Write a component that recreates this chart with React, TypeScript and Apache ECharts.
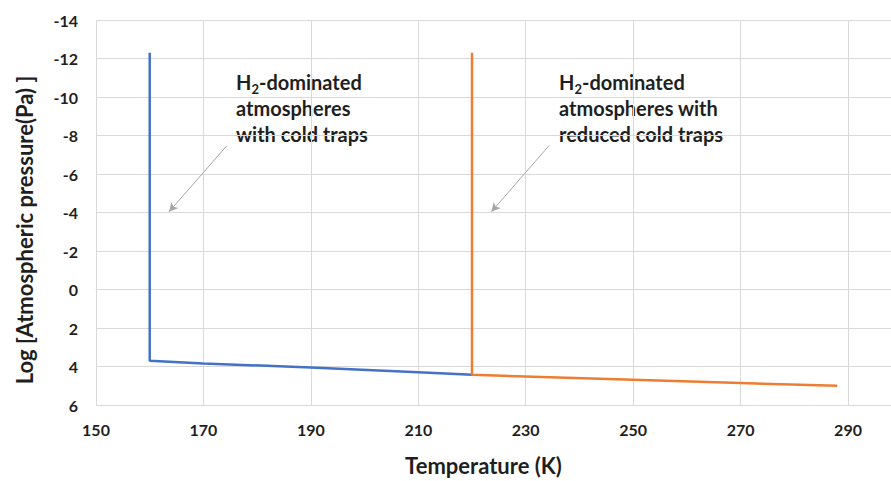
import React, { useEffect, useRef } from "react";
import * as echarts from "echarts";

const xTicks = [150, 170, 190, 210, 230, 250, 270, 290];
const coldTrapSeries: [number, number][] = [
  [160, -12.3],
  [160, 3.7],
  [170, 3.84],
  [190, 4.05],
  [210, 4.3],
  [220, 4.43],
];
const reducedTrapSeries: [number, number][] = [
  [220, -12.3],
  [220, 4.43],
  [250, 4.69],
  [270, 4.86],
  [288, 5.0],
];
const arrowCold: [number, number][] = [
  [174.3, -7.45],
  [163.6, -4.04],
];
const arrowReduced: [number, number][] = [
  [234.4, -7.49],
  [223.6, -4.04],
];

const FONT = "Lato, 'Open Sans', sans-serif";
const TXT = "#1f1f1f";

export default function App() {
  const ref = useRef<HTMLDivElement>(null);
  useEffect(() => {
    if (!ref.current) return;
    const chart = echarts.init(ref.current, undefined, { renderer: "svg" });
    const rich = {
      a: { fontSize: 20, fontWeight: "bold", fontFamily: FONT, fill: TXT, lineHeight: 26 },
      s: { fontSize: 13, fontWeight: "bold", fontFamily: FONT, fill: TXT, lineHeight: 26, verticalAlign: "bottom" },
    };
    const arrowMark = (pts: [number, number][]) => ({
      silent: true,
      symbol: ["none", "arrow"],
      symbolSize: [7, 9],
      label: { show: false },
      lineStyle: { color: "#a6a6a6", width: 1, type: "solid" },
      emphasis: { disabled: true },
      data: [[{ coord: pts[0] }, { coord: pts[1] }]],
    });
    chart.setOption({
      animation: false,
      grid: { left: 96, top: 20, right: 0, bottom: 74, containLabel: false },
      xAxis: {
        type: "value",
        min: 150,
        max: 298,
        interval: 20,
        name: "Temperature (K)",
        nameLocation: "middle",
        nameGap: 49,
        nameTextStyle: { fontSize: 22, fontWeight: "bold", fontFamily: FONT, color: TXT, padding: [0, 20, 0, 0] },
        axisLine: { show: true, lineStyle: { color: "#d9d9d9", width: 1 } },
        axisTick: { show: false },
        splitLine: { show: true, lineStyle: { color: "#d9d9d9", width: 1 } },
        axisLabel: {
          fontSize: 16,
          fontWeight: "bold",
          fontFamily: FONT,
          color: TXT,
          margin: 16,
          showMaxLabel: false,
          formatter: (v: number) => (xTicks.includes(v) ? String(v) : ""),
        },
      },
      yAxis: {
        type: "value",
        inverse: true,
        min: -14,
        max: 6,
        interval: 2,
        axisLine: { show: false },
        axisTick: { show: false },
        splitLine: { show: true, lineStyle: { color: "#d9d9d9", width: 1 } },
        axisLabel: { fontSize: 16, fontWeight: "bold", fontFamily: FONT, color: TXT, margin: 18 },
      },
      series: [
        {
          type: "line",
          name: "cold traps",
          data: coldTrapSeries,
          showSymbol: false,
          symbol: "none",
          lineStyle: { color: "#4472C4", width: 2.5 },
          itemStyle: { color: "#4472C4" },
          markLine: arrowMark(arrowCold),
        },
        {
          type: "line",
          name: "reduced cold traps",
          data: reducedTrapSeries,
          showSymbol: false,
          symbol: "none",
          lineStyle: { color: "#ED7D31", width: 2.5 },
          itemStyle: { color: "#ED7D31" },
          markLine: arrowMark(arrowReduced),
        },
      ],
      graphic: [
        {
          type: "text",
          x: 24,
          y: 230,
          rotation: Math.PI / 2,
          style: {
            text: "Log [Atmospheric pressure(Pa) ]",
            fontSize: 22,
            fontWeight: "bold",
            fontFamily: FONT,
            fill: TXT,
            align: "center",
            verticalAlign: "middle",
          },
        },
        {
          type: "text",
          left: 236,
          top: 72,
          style: {
            text: "{a|H}{s|2}{a|-dominated}\n{a|atmospheres}\n{a|with cold traps}",
            rich,
          },
        },
        {
          type: "text",
          left: 559,
          top: 72,
          style: {
            text: "{a|H}{s|2}{a|-dominated}\n{a|atmospheres with}\n{a|reduced cold traps}",
            rich,
          },
        },
      ],
    });
    return () => chart.dispose();
  }, []);
  return (
    <div
      ref={ref}
      style={{ position: "absolute", left: 0, top: 0, width: 891, height: 481 }}
    />
  );
}
